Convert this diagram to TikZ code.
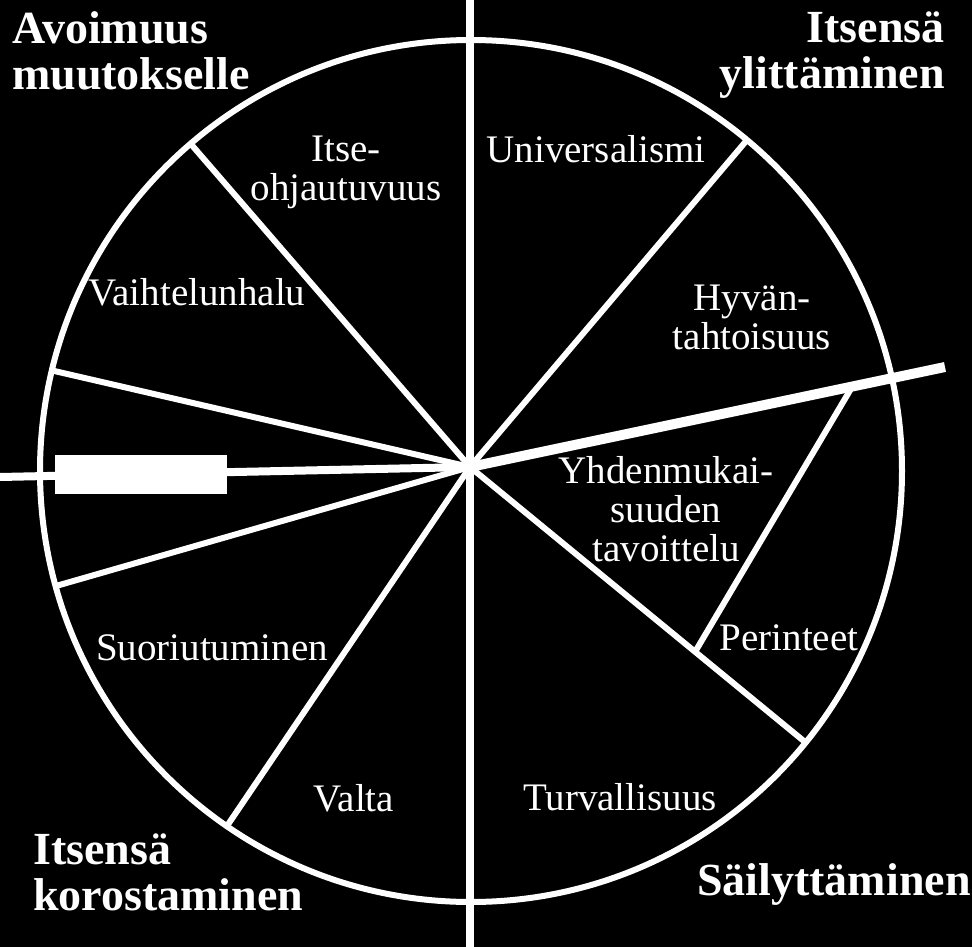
\documentclass[tikz,border=0pt]{standalone}
\usepackage{fontspec}
\setmainfont{Liberation Serif}
\begin{document}
\begin{tikzpicture}[x=1pt,y=-1pt,
  spoke/.style={white, line width=6pt},
  axis/.style={white, line width=8pt},
  val/.style={text=white, inner sep=0pt, align=center, font=\fontsize{39}{39}\selectfont},
  grp/.style={text=white, inner sep=0pt, font=\fontsize{46}{46}\selectfont\bfseries}]
 \fill[black] (0,0) rectangle (972,947);
 \useasboundingbox (0,0) rectangle (972,947);
 % circle and spokes
 \coordinate (ctr) at (470,467);
 \draw[spoke] (471,471) circle (431);
 \coordinate (top) at (470,0);
 \coordinate (bot) at (470,947);
 \coordinate (west) at (0,477);
 \coordinate (tip) at (945,367);
 \draw[axis] (top) -- (bot);
 \draw[axis] (west) -- (ctr);
 \draw[white, line width=10pt] (ctr) -- (tip);
 \foreach \p in {(190,143),(747,140),(50,370),(56,586),(227,826),(805,742)}
   \draw[spoke] (ctr) -- \p;
 \coordinate (cha) at (852,387);
 \coordinate (chb) at (695,652);
 \draw[spoke] (cha) -- (chb);
 \fill[white] (55,455) rectangle (227,494);
 % values
 \node[val, anchor=north] (itse) at (346,136) {Itse-\\ohjautuvuus};
 \node[val, anchor=base] (univ) at (596,162) {Universalismi};
 \node[val, anchor=base] (vaiht) at (197,305) {Vaihtelunhalu};
 \node[val, anchor=north] (hyv) at (752,285) {Hyvän-\\tahtoisuus};
 \node[val, anchor=north] (yhd) at (666,456) {Yhdenmukai-\\suuden\\tavoittelu};
 \node[val, anchor=base] (peri) at (789,650) {Perinteet};
 \node[val, anchor=base] (suor) at (212,660) {Suoriutuminen};
 \node[val, anchor=base] (valta) at (354,811) {Valta};
 \node[val, anchor=base] (turv) at (620,810) {Turvallisuus};
 % groups
 \node[grp, anchor=north west, align=left] (avo) at (12,11) {Avoimuus\\muutokselle};
 \node[grp, anchor=north east, align=right] (ylit) at (945,12) {Itsensä\\ylittäminen};
 \node[grp, anchor=north west, align=left] (koro) at (33,834) {Itsensä\\korostaminen};
 \node[grp, anchor=base west] (sail) at (697,895) {Säilyttäminen};
\end{tikzpicture}
\end{document}
